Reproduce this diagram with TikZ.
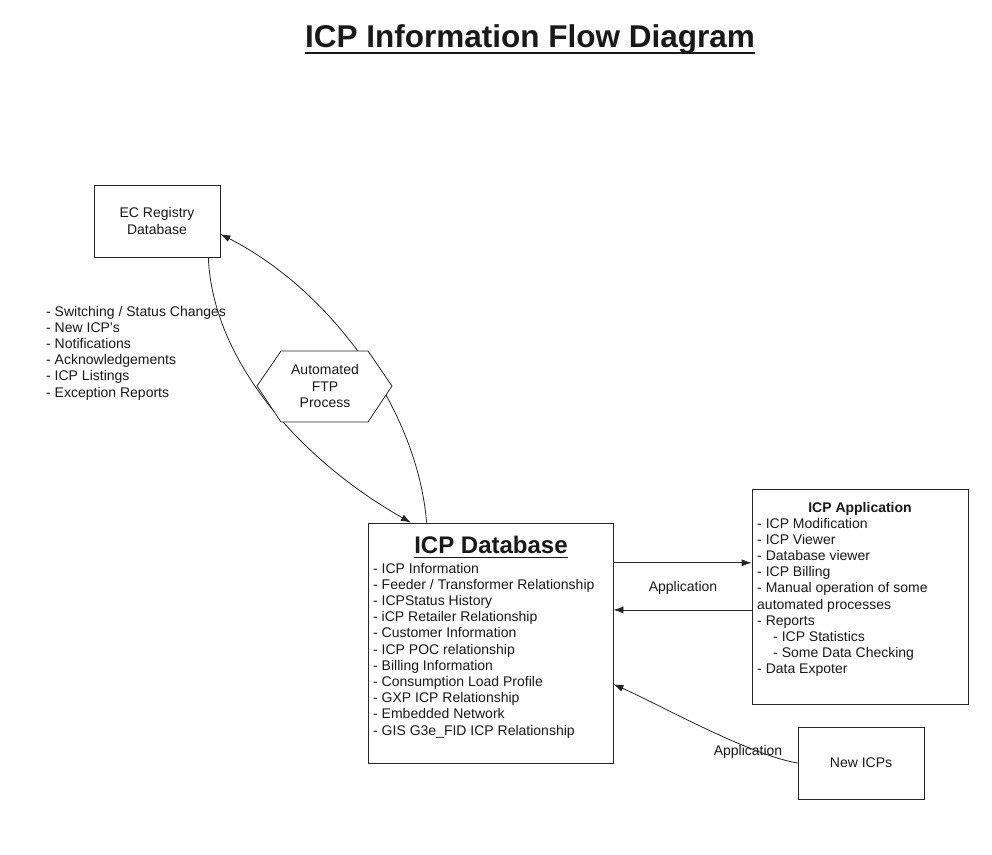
\documentclass[tikz,border=0pt]{standalone}
\usepackage{fontspec}
\setmainfont{Liberation Sans}
\usetikzlibrary{positioning, arrows.meta, calc}

\begin{document}
\begin{tikzpicture}[x=1pt, y=-1pt,
    box/.style={draw=black!85, line width=0.8pt, inner sep=0pt},
    flow/.style={draw=black!85, line width=0.8pt, -{Latex[length=10pt, width=7pt]}},
    listtext/.style={align=left, inner sep=0pt, anchor=north west, text=black!90,
        font=\fontsize{14}{16.2}\selectfont},
    lbl/.style={inner sep=0pt, anchor=base, text=black!90,
        font=\fontsize{14}{16.2}\selectfont}]

    \useasboundingbox[fill=white] (0,0) rectangle (992,854);

    % title
    \node[lbl, font=\fontsize{31.5}{36}\selectfont\bfseries] (title) at (530,47)
        {ICP Information Flow Diagram};
    \draw[black!90, line width=2pt]
        ([yshift=-5.5pt]title.base west) -- ([yshift=-5.5pt]title.base east);

    % boxes
    \node[box, minimum width=126pt, minimum height=72pt] (ec) at (157,221) {};
    \node[box, minimum width=245pt, minimum height=240pt] (db) at (490.5,643) {};
    \node[box, minimum width=216pt, minimum height=215pt] (app) at (860,596.5) {};
    \node[box, minimum width=126pt, minimum height=72pt] (new) at (861,763) {};

    % box texts
    \node[lbl, anchor=center, align=center] (ectext) at (ec) {EC Registry\\Database};
    \node[lbl] (newtext) at (861,767) {New ICPs};

    \node[lbl, font=\fontsize{24}{28}\selectfont\bfseries] (dbtitle) at (491,553) {ICP Database};
    \draw[black!90, line width=1.5pt]
        ([yshift=-4.5pt]dbtitle.base west) -- ([yshift=-4.5pt]dbtitle.base east);
    \node[listtext] (dblist) at (373,562.8) {%
        - ICP Information\\
        - Feeder / Transformer Relationship\\
        - ICPStatus History\\
        - iCP Retailer Relationship\\
        - Customer Information\\
        - ICP POC relationship\\
        - Billing Information\\
        - Consumption Load Profile\\
        - GXP ICP Relationship\\
        - Embedded Network\\
        - GIS G3e\_FID ICP Relationship};

    \node[lbl, font=\fontsize{14}{16.2}\selectfont\bfseries] (apptitle) at (860,512) {ICP Application};
    \node[listtext] (applist) at (757,517.8) {%
        - ICP Modification\\
        - ICP Viewer\\
        - Database viewer\\
        - ICP Billing\\
        - Manual operation of some\\
        automated processes\\
        - Reports\\
        \hspace*{16pt}- ICP Statistics\\
        \hspace*{16pt}- Some Data Checking\\
        - Data Expoter};

    \node[listtext] (ftplist) at (46,305.8) {%
        - Switching / Status Changes\\
        - New ICP's\\
        - Notifications\\
        - Acknowledgements\\
        - ICP Listings\\
        - Exception Reports};

    % connector ends
    \coordinate (ecb) at ($(ec.south west)!0.905!(ec.south east)$);
    \coordinate (ecr) at ($(ec.north east)!0.68!(ec.south east)$);
    \coordinate (dbt1) at ($(db.north west)!0.176!(db.north east)$);
    \coordinate (dbt2) at ($(db.north west)!0.24!(db.north east)$);
    \coordinate (dbr1) at ($(db.north east)!0.167!(db.south east)$);
    \coordinate (dbr2) at ($(db.north east)!0.3625!(db.south east)$);
    \coordinate (dbr3) at ($(db.north east)!0.671!(db.south east)$);

    % FTP exchange
    \draw[flow] (ecb) .. controls +(4,103) and +(-111,-63) .. (dbt1);
    \draw[flow] (dbt2) .. controls +(-9,-113) and +(110,56) .. (ecr);

    % FTP process hexagon
    \coordinate (hexc) at (325,386);
    \draw[black!85, line width=0.8pt, fill=white]
        ($(hexc)+(-68,0)$) -- ($(hexc)+(-44,-35)$) -- ($(hexc)+(43,-35)$)
        -- ($(hexc)+(67,0)$) -- ($(hexc)+(43,36)$) -- ($(hexc)+(-44,36)$) -- cycle;
    \node[lbl, anchor=center, align=center] (ftp) at (hexc) {Automated\\FTP\\Process};

    % application links
    \draw[flow] (dbr1) -- (dbr1 -| app.west);
    \draw[flow] (dbr2 -| app.west) -- (dbr2);
    \node[lbl] (applbl) at (683,591) {Application};

    \draw[flow] (new.west) .. controls +(-48,-8) and +(47,21) .. (dbr3);
    \node[lbl] (newlbl) at (748,755) {Application};
\end{tikzpicture}
\end{document}
